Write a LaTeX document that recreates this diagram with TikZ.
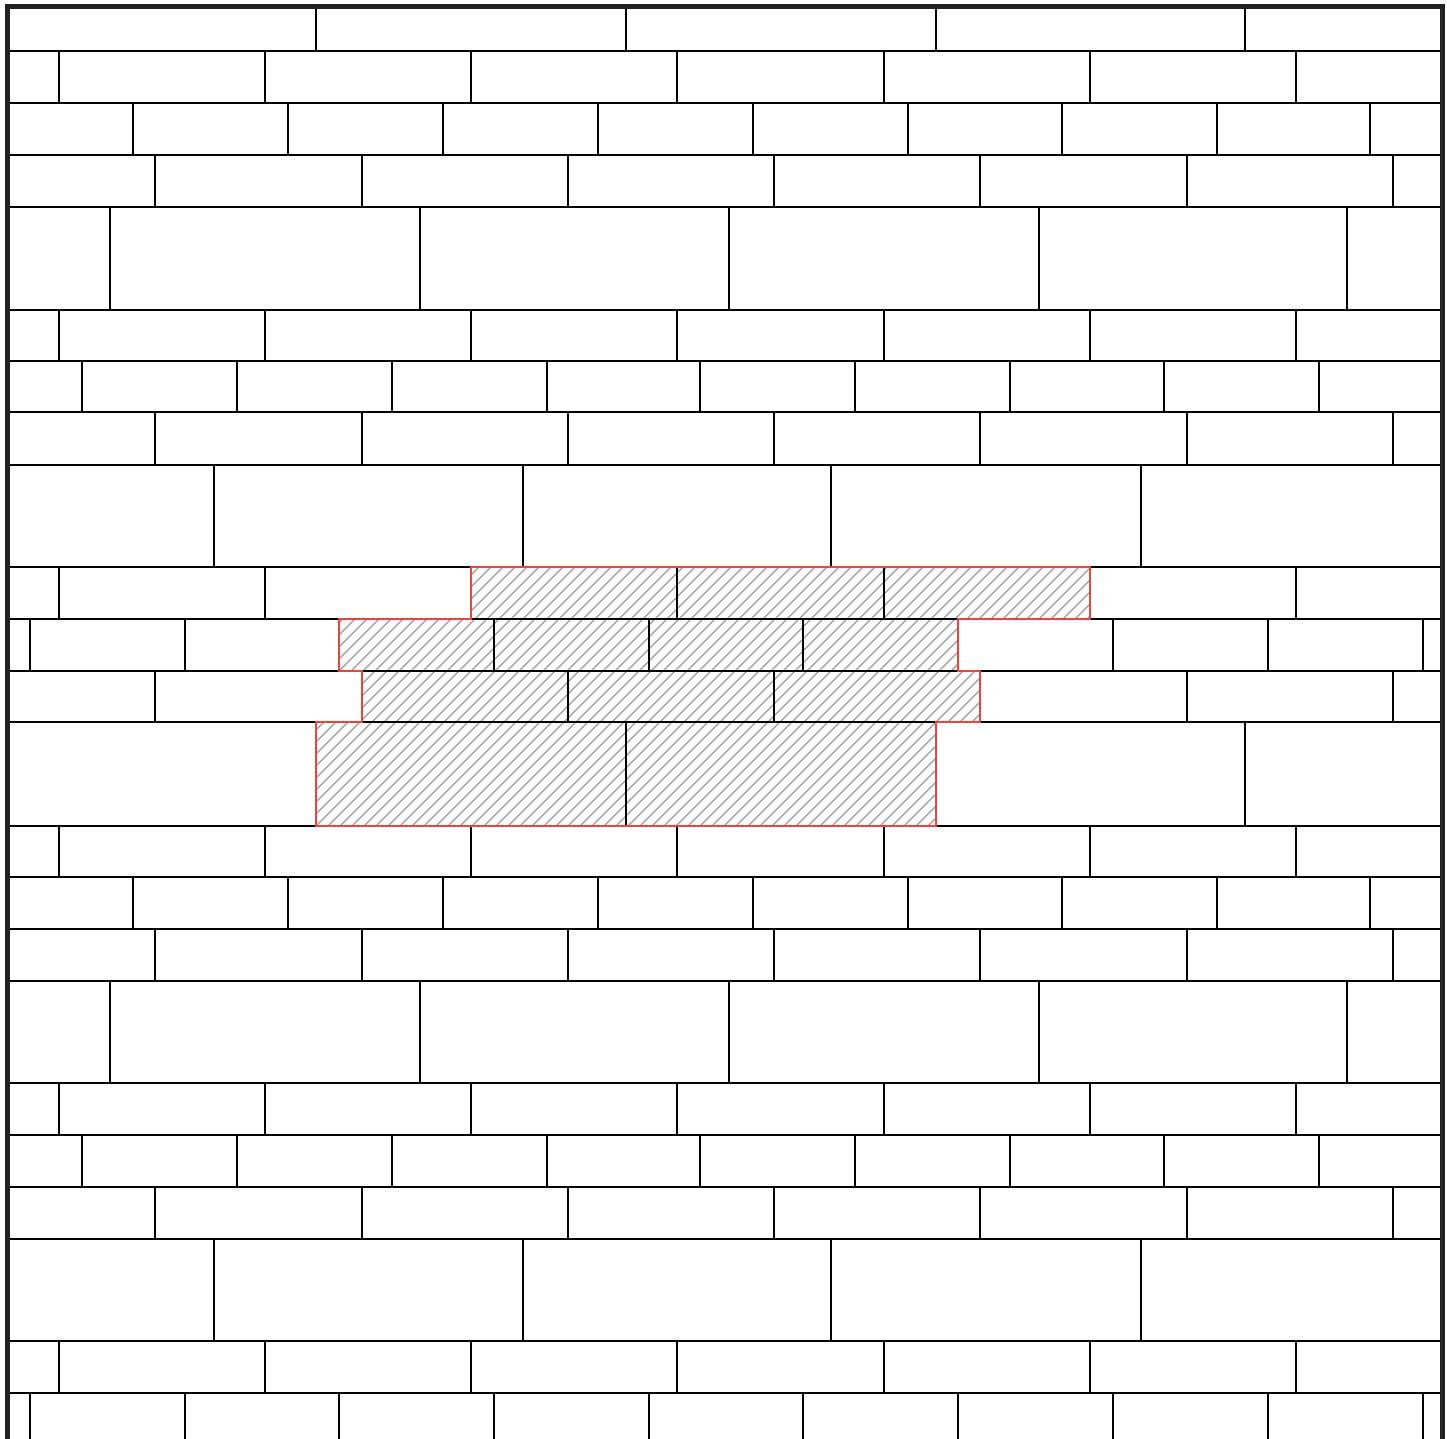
\documentclass[tikz,border=0pt]{standalone}
\definecolor{framec}{HTML}{222222}
\definecolor{redc}{HTML}{E8453C}
\definecolor{hatchc}{HTML}{9A9A9A}
\tikzset{
  joint/.style={black, line width=0.85pt},
  framel/.style={framec, line width=2.6pt},
  hatchl/.style={hatchc, line width=0.6pt},
  outl/.style={redc, line width=1.4pt, line join=miter},
}
\begin{document}
\begin{tikzpicture}[x=0.5pt,y=-0.5pt]
\useasboundingbox (0,0) rectangle (1447,1439);
\fill[white] (0,0) rectangle (1447,1439);
% hatched patch
\begin{scope}
\clip (471,567) -- (1090,567) -- (1090,619) -- (958,619) -- (958,671) -- (980,671) -- (980,722) -- (936,722) -- (936,826) -- (316,826) -- (316,722) -- (362,722) -- (362,671) -- (339,671) -- (339,619) -- (471,619) -- cycle;
\foreach \x in {52,64,...,1100} {
  \draw[hatchl] (\x,826) -- ({\x+259},567);
}
\end{scope}
% horizontal joints
\foreach \y in {51,103,155,207,310,361,412,465,567,619,671,722,826,877,929,981,1083,1135,1187,1239,1341,1393} {
  \draw[joint] (8,\y) -- (1440,\y);
}
% vertical joints per row: top, bottom, list
\foreach \t/\b/\xs in {
  7/51/{316,626,936,1245},
  51/103/{59,265,471,677,884,1090,1296},
  103/155/{133,288,443,598,753,908,1062,1217,1370},
  155/207/{155,362,568,774,980,1187,1393},
  207/310/{110,420,729,1039,1347},
  310/361/{59,265,471,677,884,1090,1296},
  361/412/{82,237,392,547,700,855,1010,1164,1319},
  412/465/{155,362,568,774,980,1187,1393},
  465/567/{214,523,831,1141},
  567/619/{59,265,471,677,884,1090,1296},
  619/671/{30,185,339,494,649,803,958,1113,1268,1423},
  671/722/{155,362,568,774,980,1187,1393},
  722/826/{316,626,936,1245},
  826/877/{59,265,471,677,884,1090,1296},
  877/929/{133,288,443,598,753,908,1062,1217,1370},
  929/981/{155,362,568,774,980,1187,1393},
  981/1083/{110,420,729,1039,1347},
  1083/1135/{59,265,471,677,884,1090,1296},
  1135/1187/{82,237,392,547,700,855,1010,1164,1319},
  1187/1239/{155,362,568,774,980,1187,1393},
  1239/1341/{214,523,831,1141},
  1341/1393/{59,265,471,677,884,1090,1296},
  1393/1439/{30,185,339,494,649,803,958,1113,1268,1423}} {
  \foreach \x in \xs {
    \draw[joint] (\x,\t) -- (\x,\b);
  }
}
% red outline of the patch
\draw[outl] (471,567) -- (1090,567) -- (1090,619) -- (958,619) -- (958,671) -- (980,671) -- (980,722) -- (936,722) -- (936,826) -- (316,826) -- (316,722) -- (362,722) -- (362,671) -- (339,671) -- (339,619) -- (471,619) -- cycle;
% frame
\draw[framel, line cap=rect] (7.5,1445) -- (7.5,6.5) -- (1442.5,6.5) -- (1442.5,1445);
\end{tikzpicture}
\end{document}
